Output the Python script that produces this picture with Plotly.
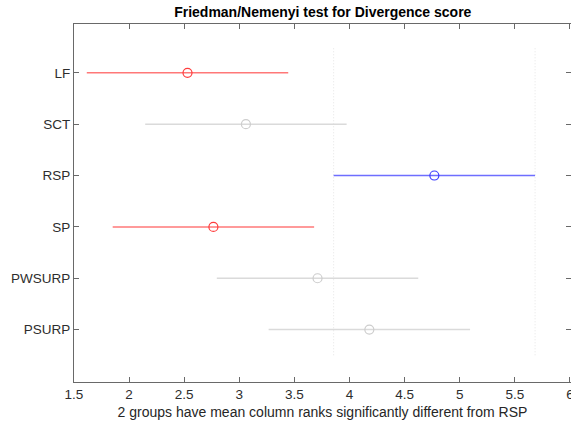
import plotly.graph_objects as go

# Friedman test mean column ranks with Nemenyi comparison intervals
groups = ["LF", "SCT", "RSP", "SP", "PWSURP", "PSURP"]
mean_ranks = [2.53, 3.06, 4.77, 2.765, 3.71, 4.18]
half_interval = 0.914
# "ref" = selected group, "sig" = significantly different, "ns" = not different
status = ["sig", "ns", "ref", "sig", "ns", "ns"]
x_ticks = [1.5, 2, 2.5, 3, 3.5, 4, 4.5, 5, 5.5, 6]
x_tick_text = ["1.5", "2", "2.5", "3", "3.5", "4", "4.5", "5", "5.5", "6"]
title_text = "Friedman/Nemenyi test for Divergence score"
xlabel_text = "2 groups have mean column ranks significantly different from RSP"

line_colors = {"ref": "rgb(110,110,255)", "sig": "rgb(255,120,120)", "ns": "rgb(218,218,218)"}
marker_colors = {"ref": "rgb(60,60,255)", "sig": "rgb(255,60,60)", "ns": "rgb(205,205,205)"}

n = len(groups)
positions = list(range(n, 0, -1))

fig = go.Figure()

# dotted guides at the bounds of the selected group's interval
ref_idx = status.index("ref")
for bound in (mean_ranks[ref_idx] - half_interval, mean_ranks[ref_idx] + half_interval):
    fig.add_trace(go.Scatter(
        x=[bound, bound], y=[0.5, n + 0.5], mode="lines",
        line=dict(color="rgb(228,228,228)", width=1, dash="1px,2px"),
        hoverinfo="skip", showlegend=False,
    ))

for g, m, s, p in zip(groups, mean_ranks, status, positions):
    fig.add_trace(go.Scatter(
        x=[m - half_interval, m + half_interval], y=[p, p], mode="lines",
        line=dict(color=line_colors[s], width=1.5),
        hoverinfo="skip", showlegend=False,
    ))
    fig.add_trace(go.Scatter(
        x=[m], y=[p], mode="markers", name=g,
        marker=dict(symbol="circle-open", size=9, color=marker_colors[s],
                    line=dict(width=1.2, color=marker_colors[s])),
        showlegend=False,
    ))

axis_color = "rgb(105,105,105)"
font_family = "Liberation Sans, Arial, sans-serif"
tick_font = dict(size=13.5, color="rgb(45,45,45)")

fig.update_layout(
    width=571, height=427,
    margin=dict(l=74, r=0, t=24, b=45),
    paper_bgcolor="white", plot_bgcolor="white",
    font=dict(family=font_family, size=13.5, color="rgb(38,38,38)"),
    title=dict(text="<b>" + title_text + "</b>", x=0.5653, xanchor="center",
               y=1 - 12.5 / 427, yanchor="middle",
               font=dict(size=14, color="black")),
    xaxis=dict(
        range=[1.5, 6.01], tickvals=x_ticks, ticktext=x_tick_text,
        showgrid=False, zeroline=False, automargin=False,
        showline=True, linecolor=axis_color, linewidth=1, mirror="ticks",
        ticks="inside", ticklen=5, tickcolor=axis_color,
        tickfont=tick_font, ticklabeloverflow="allow",
        title=dict(text=xlabel_text, standoff=5, font=dict(size=14)),
    ),
    yaxis=dict(
        range=[-0.02, 6.95], tickvals=positions, ticktext=groups,
        showgrid=False, zeroline=False, automargin=False,
        showline=True, linecolor=axis_color, linewidth=1, mirror="ticks",
        ticks="inside", ticklen=5, tickcolor=axis_color,
        tickfont=tick_font,
    ),
)

fig.write_html("out.html")
